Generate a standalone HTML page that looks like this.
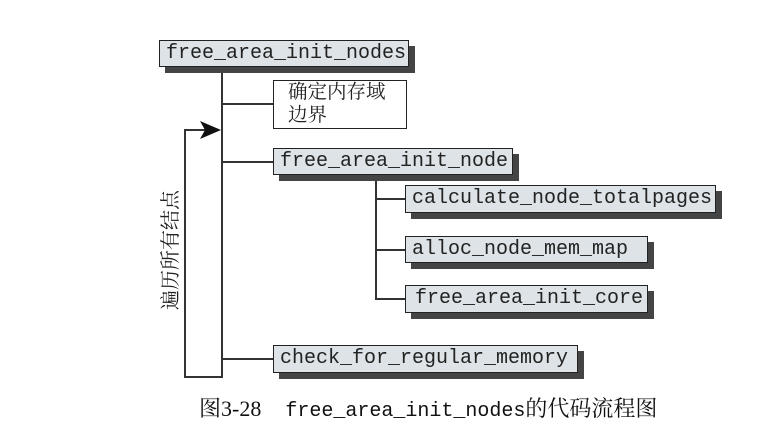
<!DOCTYPE html>
<html><head><meta charset="utf-8"><style>
body{margin:0;width:766px;height:433px;background:#fff;overflow:hidden;position:relative;font-family:"Liberation Mono",monospace}
.b{position:absolute;background:#dde3e6;border:1.5px solid #222;box-sizing:border-box;box-shadow:6px 6px 0 #444;font-size:20px;line-height:25px;padding-left:6px;color:#222;white-space:nowrap}
.l{position:absolute;background:#333}
</style></head><body>
<div class="l" style="left:221px;top:66px;width:2px;height:311px"></div>
<div class="l" style="left:184px;top:129px;width:2px;height:249px"></div>
<div class="l" style="left:184px;top:376px;width:39px;height:2px"></div>
<div class="l" style="left:184px;top:129px;width:28px;height:2px"></div>
<svg style="position:absolute;left:200px;top:121px" width="22" height="18"><polygon points="0,0 21,9 0,18 5,9" fill="#111"/></svg>
<div class="l" style="left:222px;top:103px;width:52px;height:1.5px"></div>
<div class="l" style="left:222px;top:161px;width:52px;height:1.5px"></div>
<div class="l" style="left:222px;top:358px;width:52px;height:1.5px"></div>
<div class="l" style="left:375px;top:174px;width:1.5px;height:125px"></div>
<div class="l" style="left:375px;top:198px;width:31px;height:1.5px"></div>
<div class="l" style="left:375px;top:249px;width:31px;height:1.5px"></div>
<div class="l" style="left:375px;top:298px;width:31px;height:1.5px"></div>
<div class="b" style="left:159px;top:40px;width:250px;height:27px">free_area_init_nodes</div>
<div style="position:absolute;left:273px;top:80px;width:134px;height:49px;border:1.5px solid #222;box-sizing:border-box;font-family:'Liberation Serif','Noto Serif CJK SC',serif;font-size:19.5px;line-height:23px;padding:0 0 0 14px;color:#222">确定内存域<br>边界</div>
<div class="b" style="left:273px;top:148px;width:240px;height:27px">free_area_init_node</div>
<div class="b" style="left:405px;top:185px;width:311px;height:28px">calculate_node_totalpages</div>
<div class="b" style="left:405px;top:236px;width:243px;height:27px">alloc_node_mem_map</div>
<div class="b" style="left:405px;top:285px;width:243px;height:28px;padding-left:9px">free_area_init_core</div>
<div class="b" style="left:273px;top:345px;width:305px;height:28px">check_for_regular_memory</div>
<div style="position:absolute;left:106px;top:239px;width:130px;height:22px;transform:rotate(-90deg);font-family:'Liberation Serif','Noto Serif CJK SC',serif;font-size:20px;line-height:22px;text-align:center;color:#222;white-space:nowrap">遍历所有结点</div>
<div style="position:absolute;left:199px;top:396px;font-size:20px;line-height:26px;color:#111;white-space:nowrap"><span style="font-family:'Liberation Serif','Noto Serif CJK SC',serif;font-size:22px">图3-28</span>&nbsp;&nbsp;free_area_init_nodes<span style="font-family:'Liberation Serif','Noto Serif CJK SC',serif;font-size:22px">的代码流程图</span></div>
</body></html>
